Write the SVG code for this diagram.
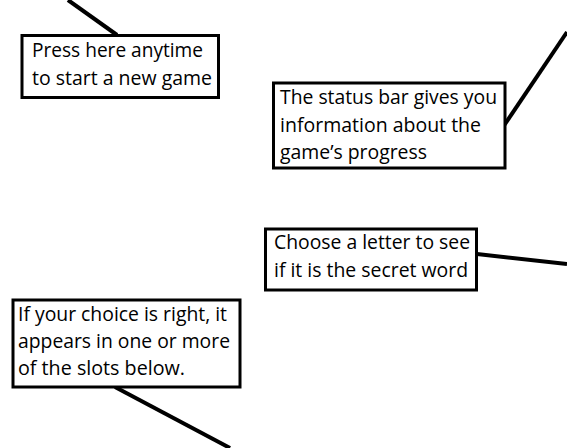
<svg xmlns="http://www.w3.org/2000/svg" width="567" height="448" viewBox="0 0 567 448">
<style>
.box{fill:#fff;stroke:#000;stroke-width:3}
.t{font-family:"Open Sans","Noto Sans",sans-serif;font-size:20px;fill:#000}
.c{stroke:#000;stroke-width:4;fill:none}
</style>
<rect width="567" height="448" fill="#fff"/>
<g id="connectors">
<line class="c" x1="68" y1="0" x2="117" y2="35"/>
<line class="c" x1="503" y1="127" x2="567" y2="32"/>
<line class="c" x1="477" y1="254" x2="567" y2="264"/>
<line class="c" x1="115" y1="387" x2="230" y2="448"/>
</g>
<g id="node-newgame">
<rect class="box" x="22" y="35.5" width="196.5" height="62"/>
<text class="t" x="32" y="57" textLength="171" lengthAdjust="spacingAndGlyphs">Press here anytime</text>
<text class="t" x="32" y="85" textLength="180" lengthAdjust="spacingAndGlyphs">to start a new game</text>
</g>
<g id="node-status">
<rect class="box" x="273.5" y="83" width="231.5" height="85"/>
<text class="t" x="280" y="104" textLength="217" lengthAdjust="spacingAndGlyphs">The status bar gives you</text>
<text class="t" x="280" y="132" textLength="201" lengthAdjust="spacingAndGlyphs">information about the</text>
<text class="t" x="280" y="159" textLength="147" lengthAdjust="spacingAndGlyphs">game’s progress</text>
</g>
<g id="node-letter">
<rect class="box" x="265.5" y="229" width="211" height="61"/>
<text class="t" x="274" y="249" textLength="196" lengthAdjust="spacingAndGlyphs">Choose a letter to see</text>
<text class="t" x="274" y="277" textLength="194" lengthAdjust="spacingAndGlyphs">if it is the secret word</text>
</g>
<g id="node-choice">
<rect class="box" x="13" y="300" width="227" height="87"/>
<text class="t" x="18" y="321" textLength="209" lengthAdjust="spacingAndGlyphs">If your choice is right, it</text>
<text class="t" x="18" y="348" textLength="212" lengthAdjust="spacingAndGlyphs">appears in one or more</text>
<text class="t" x="18" y="375" textLength="167" lengthAdjust="spacingAndGlyphs">of the slots below.</text>
</g>
</svg>
